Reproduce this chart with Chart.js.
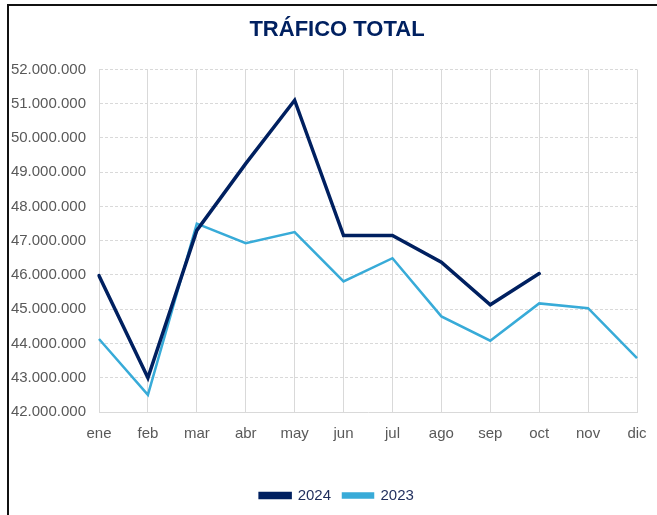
<!DOCTYPE html>
<html>
<head>
<meta charset="utf-8">
<script src="https://cdn.jsdelivr.net/npm/chart.js@4.4.1/dist/chart.umd.min.js"></script>
<style>
    html, body { margin: 0; padding: 0; background: #fff; }
    #wrap { position: relative; width: 657px; height: 515px; overflow: hidden; }
    #frame {
        position: absolute; left: 7px; top: 4px; width: 700px; height: 600px;
        border-left: 2px solid #111; border-top: 2px solid #111;
        pointer-events: none;
    }
</style>
</head>
<body>
<div id="wrap">
    <canvas id="traficoChart" width="657" height="515"></canvas>
    <div id="frame"></div>
</div>
<script>
const meses = ["ene", "feb", "mar", "abr", "may", "jun", "jul", "ago", "sep", "oct", "nov", "dic"];
const trafico2024 = [45980000, 43000000, 47300000, 49250000, 51100000, 47150000, 47150000, 46370000, 45130000, 46040000, null, null];
const trafico2023 = [44130000, 42500000, 47500000, 46930000, 47250000, 45810000, 46490000, 44790000, 44080000, 45170000, 45030000, 43570000];
const ejeMin = 42000000;
const ejeMax = 52000000;
const ejePaso = 1000000;

const azulOscuro = "#002060";
const azulClaro = "#38ABD8";
const gris = "#D9D9D9";
const fuente = "'Liberation Sans', Arial, sans-serif";

// 52000000 -> "52.000.000"
function formatoMiles(v) {
    return String(v).replace(/\B(?=(\d{3})+(?!\d))/g, ".");
}

const ctx = document.getElementById("traficoChart").getContext("2d");

new Chart(ctx, {
    type: "line",
    data: {
        labels: meses,
        datasets: [
            {
                label: "2024",
                data: trafico2024,
                borderColor: azulOscuro,
                backgroundColor: azulOscuro,
                borderWidth: 3.5,
                pointRadius: 0,
                tension: 0,
                borderCapStyle: "round",
                borderJoinStyle: "miter"
            },
            {
                label: "2023",
                data: trafico2023,
                borderColor: azulClaro,
                backgroundColor: azulClaro,
                borderWidth: 2.5,
                pointRadius: 0,
                tension: 0,
                borderJoinStyle: "miter"
            }
        ]
    },
    options: {
        responsive: false,
        animation: false,
        // title and legend sit a bit right of the canvas centre
        layout: { padding: { left: 0, right: -17, top: 0, bottom: 2 } },
        plugins: {
            title: {
                display: true,
                text: "TRÁFICO TOTAL",
                color: azulOscuro,
                font: { family: fuente, size: 22, weight: "bold" },
                padding: { top: 17, bottom: 26 }
            },
            legend: {
                position: "bottom",
                labels: {
                    color: "#1F2D5C",
                    font: { family: fuente, size: 15 },
                    boxWidth: 30,
                    boxHeight: 4,
                    padding: 12
                }
            },
            tooltip: { enabled: false }
        },
        scales: {
            x: {
                offset: false,
                // invisible tick marks push the month labels down
                grid: { color: gris, lineWidth: 1, drawTicks: true, tickLength: 10, tickColor: "rgba(0,0,0,0)" },
                border: { color: gris },
                ticks: {
                    color: "#595959",
                    font: { family: fuente, size: 15 },
                    padding: 3,
                    maxRotation: 0
                },
                afterFit: (scale) => { scale.height = 64; }
            },
            y: {
                min: ejeMin,
                max: ejeMax,
                grid: { color: gris, lineWidth: 1, drawTicks: false },
                border: { color: gris, dash: [3, 2] },
                ticks: {
                    stepSize: ejePaso,
                    color: "#595959",
                    font: { family: fuente, size: 15 },
                    padding: 13,
                    callback: (v) => formatoMiles(v)
                },
                afterFit: (scale) => { scale.width = 99; }
            },
            // empty right-hand strip so the plot ends at the dic gridline
            margen: {
                type: "linear",
                position: "right",
                grid: { display: false },
                border: { display: false },
                ticks: { display: false },
                afterFit: (scale) => { scale.width = 37; }
            }
        }
    }
});
</script>
</body>
</html>
